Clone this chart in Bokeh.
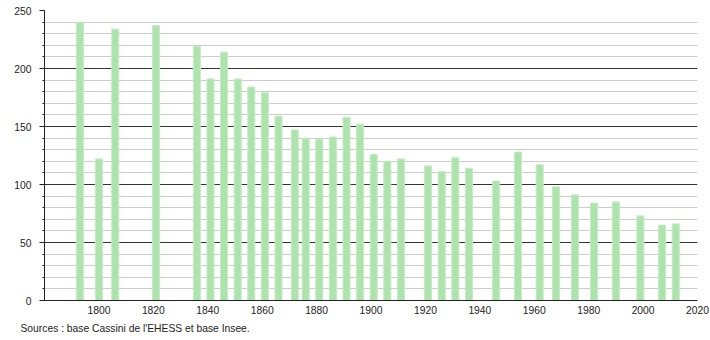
from bokeh.plotting import figure
from bokeh.models import Range1d, SingleIntervalTicker, Title, ColumnDataSource
from bokeh.embed import file_html
from bokeh.resources import INLINE

years = [1793, 1800, 1806, 1821, 1836, 1841, 1846, 1851, 1856, 1861, 1866, 1872, 1876,
         1881, 1886, 1891, 1896, 1901, 1906, 1911, 1921, 1926, 1931, 1936, 1946, 1954,
         1962, 1968, 1975, 1982, 1990, 1999, 2007, 2012]
population = [240, 122, 234, 237, 219, 191, 214, 191, 184, 179, 159, 147, 140,
              139, 141, 158, 152, 126, 120, 122, 116, 111, 123, 114, 103, 128,
              117, 98, 91, 84, 85, 73, 65, 66]
x_ticks = [1800, 1820, 1840, 1860, 1880, 1900, 1920, 1940, 1960, 1980, 2000, 2020]
source_text = "Sources : base Cassini de l'EHESS et base Insee."

FONT = "Liberation Sans"
FS = "10.3px"

p = figure(width=710, height=340, output_backend="svg", toolbar_location=None,
           x_range=Range1d(1780, 2020), y_range=Range1d(0, 250),
           min_border_left=44, min_border_right=13, min_border_top=10,
           min_border_bottom=40)
p.outline_line_color = None
p.background_fill_color = "white"
p.border_fill_color = "white"

src = ColumnDataSource(dict(x=years, top=population))
p.vbar(x="x", top="top", bottom=0, width=2.6, source=src,
       fill_color="#aee3ae", line_color="#c4ecc4", line_width=1)

# Y axis
p.yaxis.ticker = SingleIntervalTicker(interval=50, num_minor_ticks=5)
p.yaxis.major_tick_out = 5
p.yaxis.major_tick_in = 0
p.yaxis.minor_tick_out = 2
p.yaxis.minor_tick_in = 0
p.yaxis.axis_line_color = "#222222"
p.yaxis.major_tick_line_color = "#222222"
p.yaxis.minor_tick_line_color = "#222222"
p.yaxis.major_label_text_font = FONT
p.yaxis.major_label_text_font_size = FS
p.yaxis.major_label_text_color = "#222222"
p.yaxis.major_label_standoff = 8

# X axis
p.xaxis.ticker = x_ticks
p.xaxis.major_tick_out = 0
p.xaxis.major_tick_in = 0
p.xaxis.minor_tick_line_color = None
p.xaxis.axis_line_color = "#222222"
p.xaxis.major_label_text_font = FONT
p.xaxis.major_label_text_font_size = FS
p.xaxis.major_label_text_color = "#222222"
p.xaxis.major_label_standoff = 5

# Grids
p.xgrid.grid_line_color = None
p.ygrid.grid_line_color = "#333333"
p.ygrid.grid_line_width = 1
p.ygrid.minor_grid_line_color = "#cccccc"
p.ygrid.level = "underlay"

p.add_layout(Title(text=source_text, align="left", offset=-24, standoff=8,
                   text_font=FONT, text_font_size=FS, text_font_style="normal",
                   text_color="#222222"), "below")

open("out.html", "w").write(file_html(p, INLINE))
